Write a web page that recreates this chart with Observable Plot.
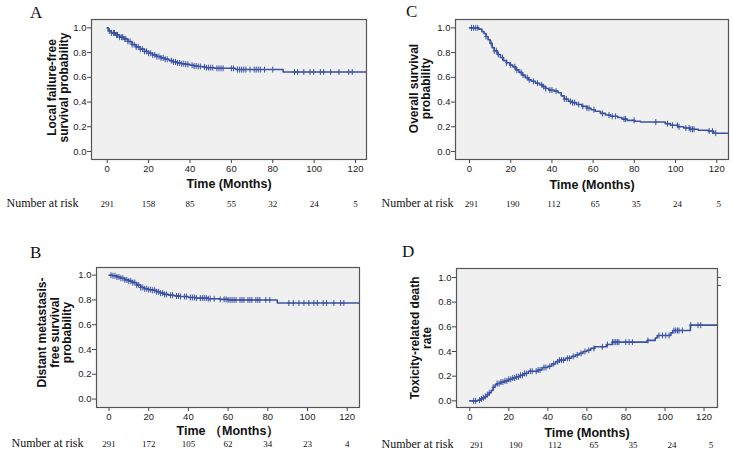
<!DOCTYPE html>
<html>
<head>
<meta charset="utf-8">
<script src="https://cdn.jsdelivr.net/npm/d3@7"></script>
<script src="https://cdn.jsdelivr.net/npm/@observablehq/plot@0.6"></script>
<style>
  html, body { margin: 0; padding: 0; background: #fff; }
  #wrap { position: relative; width: 733px; height: 462px; background: #fff; overflow: hidden; }
  .panel { position: absolute; }
  .letter { position: absolute; font-family: "Liberation Serif", "Times New Roman", serif; font-size: 17px; color: #111; line-height: 1; }
  .dash { position: absolute; width: 3px; height: 1px; background: #3b52a3; }
</style>
</head>
<body>
<div id="wrap">
  <div class="letter" style="left:30px; top:4px;">A</div>
  <div class="letter" style="left:406px; top:3px;">C</div>
  <div class="letter" style="left:30px; top:244px;">B</div>
  <div class="letter" style="left:402px; top:243px;">D</div>
  <div class="dash" style="left:718px; top:277px;"></div>
  <div class="dash" style="left:718px; top:285px;"></div>
</div>
<script>
// ---------- shared tick values ----------
const xTicks = [0, 20, 40, 60, 80, 100, 120];
const yTicks = [0, 0.2, 0.4, 0.6, 0.8, 1.0];

// ---------- Panel A: local failure-free survival ----------
const aTime = [0, 0.5, 2, 4, 6, 8, 10, 12, 14, 16, 18, 20, 22, 24, 26, 28, 30, 32, 34, 36, 38, 40, 42, 44, 46, 48, 52, 62, 85, 125.2];
const aSurv = [1.0, 0.975, 0.96, 0.943, 0.925, 0.91, 0.89, 0.865, 0.846, 0.828, 0.81, 0.795, 0.781, 0.768, 0.757, 0.746, 0.735, 0.725, 0.716, 0.71, 0.705, 0.698, 0.692, 0.688, 0.684, 0.678, 0.673, 0.663, 0.643, 0.643];
const aCensor = [1, 2, 3, 3.5, 4.5, 5, 6, 7, 7.5, 8.5, 9, 10, 11, 12, 13, 14, 15, 16, 17, 18, 19, 20, 21, 22, 23, 24, 25, 26, 27, 28, 29, 31, 32, 33, 34, 35, 36, 37, 38, 39, 41, 42, 43, 44, 45, 47, 48, 49, 50, 51, 53, 54, 55, 56, 60, 61, 63, 64, 65, 66, 67, 69, 71, 72, 73, 74, 76, 80, 90.5, 92, 95, 98, 99.8, 103, 104.6, 108, 112, 116.7, 118.4];
const aRisk = [291, 158, 85, 55, 32, 24, 5];

// ---------- Panel B: distant metastasis-free survival ----------
const bTime = [0, 2, 4, 6, 8, 10, 12, 14, 16, 18, 20, 22, 24, 26, 28, 30, 33, 36, 40, 44, 50, 56, 60, 84.8, 126.1];
const bSurv = [1.0, 0.995, 0.985, 0.975, 0.962, 0.952, 0.94, 0.92, 0.9, 0.89, 0.883, 0.878, 0.866, 0.855, 0.845, 0.838, 0.832, 0.828, 0.82, 0.815, 0.81, 0.805, 0.8, 0.775, 0.775];
const bCensor = [1, 2, 3, 4, 5, 6, 7, 8, 9, 10, 11, 12, 13, 14, 15, 16, 17, 18, 19, 20, 21, 22, 23, 24, 25, 26, 27, 28, 29, 31, 32, 34, 35, 36, 38, 39, 41, 42, 43, 44, 46, 47, 48, 49, 50, 51, 53, 56, 58, 59, 60, 61, 62, 63, 64, 66, 67, 68, 70, 71, 72, 74, 75, 76, 79, 81, 90.6, 92.8, 95.7, 98.2, 100.7, 103.2, 104.9, 107.9, 109.6, 113.3, 116.7, 118.3];
const bRisk = [291, 172, 105, 62, 34, 23, 4];

// ---------- Panel C: overall survival ----------
const cTime = [0, 4.5, 6, 7, 8, 9, 10, 11, 12, 13.5, 15, 16.5, 18, 19.5, 21, 22.5, 24, 25.5, 27, 28.5, 30, 32, 34, 35.5, 37, 38.5, 41, 43, 44.5, 46, 48, 50, 52, 54.5, 57, 59, 61, 63.5, 66, 68.5, 72, 74, 76.5, 80, 83, 95, 97.5, 101, 104, 107, 111, 116, 118.5, 125.6];
const cSurv = [1.0, 0.99, 0.97, 0.955, 0.93, 0.905, 0.875, 0.84, 0.815, 0.785, 0.76, 0.735, 0.718, 0.7, 0.685, 0.66, 0.64, 0.618, 0.598, 0.58, 0.568, 0.552, 0.54, 0.525, 0.51, 0.497, 0.488, 0.475, 0.45, 0.425, 0.405, 0.395, 0.38, 0.365, 0.35, 0.338, 0.325, 0.308, 0.295, 0.285, 0.275, 0.262, 0.252, 0.245, 0.238, 0.225, 0.212, 0.2, 0.19, 0.18, 0.172, 0.165, 0.148, 0.148];
const cCensor = [1, 2, 3, 4, 8, 10.5, 12, 13, 14, 16, 18, 20, 22, 23, 25, 26, 28, 29, 31, 33, 35, 36, 37, 39, 40, 42, 46, 47, 49, 50, 51, 53, 55, 57, 58, 60.4, 64.5, 67.7, 69.3, 70.9, 75, 75.8, 79.9, 90.4, 96.1, 98.5, 100.9, 101.7, 105, 106.6, 107.4, 108.2, 109, 116.3, 117.9, 119.5];
const cRisk = [291, 190, 112, 65, 35, 24, 5];

// ---------- Panel D: toxicity-related death rate ----------
const dTime = [0, 4, 5.5, 7, 8, 9, 10, 11, 12, 13, 14, 16, 18, 20, 22, 24, 26, 28, 30, 35, 37, 40, 42, 44, 46, 49, 52, 54, 56, 58, 60, 62, 64, 70, 73, 91, 95, 96, 103, 104, 113, 126.8];
const dRate = [0, 0.005, 0.015, 0.025, 0.035, 0.05, 0.065, 0.085, 0.11, 0.13, 0.14, 0.152, 0.162, 0.175, 0.185, 0.195, 0.207, 0.222, 0.24, 0.25, 0.27, 0.28, 0.3, 0.318, 0.33, 0.345, 0.36, 0.372, 0.385, 0.4, 0.41, 0.425, 0.438, 0.457, 0.476, 0.49, 0.51, 0.53, 0.551, 0.57, 0.614, 0.614];
const dCensor = [2, 3, 5, 6, 7, 8, 9, 10, 12, 14, 15, 16, 17, 18, 19, 20, 21, 22, 23, 24, 25, 26, 27, 28, 29, 31, 32, 34, 35, 36, 38, 39, 41, 43, 45, 46, 47, 48, 50, 51, 53, 55, 57, 59, 61, 63.6, 67.9, 70.5, 73.1, 73.9, 74.8, 75.6, 76.4, 79.9, 81.6, 83.3, 91.3, 96.9, 98.7, 100.4, 102.1, 104.6, 105.5, 106.4, 107.2, 108.9, 113.2, 116.9, 118.3];
const dRisk = [291, 190, 112, 65, 35, 24, 5];

// ---------- drawing ----------
const BLUE = "#3b52a3";
const sans = "'Liberation Sans', Arial, sans-serif";
const serif = "'Liberation Serif', 'Times New Roman', serif";

// censoring mark: a "+" with a taller vertical bar
const censorSymbol = {
  draw(ctx) {
    ctx.moveTo(0, -3); ctx.lineTo(0, 3);
    ctx.moveTo(-1.6, 0); ctx.lineTo(1.6, 0);
  }
};

function stepValue(times, vals, t) {
  let v = vals[0];
  for (let i = 0; i < times.length; i++) { if (times[i] <= t) v = vals[i]; else break; }
  return v;
}

function panel(cfg) {
  const curve = cfg.time.map((t, i) => ({t, s: cfg.vals[i]}));
  const cens = cfg.censor.map(t => ({t, s: stepValue(cfg.time, cfg.vals, t)}));
  const risk = xTicks.map((t, i) => ({t, n: cfg.risk[i]}));
  const svg = Plot.plot({
    width: cfg.width, height: cfg.height,
    marginLeft: cfg.ml, marginRight: cfg.mr, marginTop: cfg.mt, marginBottom: cfg.mb,
    style: {fontFamily: sans, fontSize: "10px", color: "#222", background: "transparent", overflow: "visible"},
    x: {domain: cfg.xd},
    y: {domain: cfg.yd},
    marks: [
      Plot.frame({fill: "#f0f0f0", stroke: null}),
      Plot.axisX({ticks: xTicks, tickSize: 4, tickPadding: 2, fontSize: 9.5, label: null, stroke: "#444", fill: "#222"}),
      Plot.axisY({ticks: yTicks, tickSize: 4, tickPadding: 1, fontSize: 9.5, tickFormat: d3.format(".1f"), label: null, stroke: "#444", fill: "#222"}),
      Plot.line(curve, {x: "t", y: "s", curve: "step-after", stroke: BLUE, strokeWidth: 1.6}),
      Plot.dot(cens, {x: "t", y: "s", symbol: censorSymbol, r: 3, fill: "none", stroke: BLUE, strokeWidth: 1}),
      Plot.frame({stroke: "#555", strokeWidth: 1.2}),
      Plot.text([cfg.yTitle], {text: d => d, frameAnchor: "left", textAnchor: "middle", lineAnchor: "middle", rotate: -90, dx: cfg.ytDx, dy: cfg.ytDy, fontWeight: "bold", fontSize: 12, lineHeight: cfg.lh, fill: "#111"}),
      Plot.text([cfg.xTitle], {text: d => d, frameAnchor: "bottom", textAnchor: "middle", dy: cfg.xtDy, fontWeight: "bold", fontSize: 12.5, fill: "#111"}),
      Plot.text(["Number at risk"], {text: d => d, frameAnchor: "bottom-left", textAnchor: "end", dx: cfg.nlDx, dy: cfg.rDy, fontFamily: serif, fontSize: 12, fill: "#111"}),
      Plot.text(risk, {x: "t", text: "n", frameAnchor: "bottom", textAnchor: "middle", dx: cfg.rDx, dy: cfg.rDy, fontFamily: serif, fontSize: 9, fill: "#111"})
    ]
  });
  svg.classList.add("panel");
  svg.style.left = cfg.left + "px";
  svg.style.top = cfg.top + "px";
  document.getElementById("wrap").appendChild(svg);
}

panel({
  left: 0, top: 0, width: 370, height: 225, ml: 91, mr: 4, mt: 19, mb: 66,
  xd: [-7.6, 125.3], yd: [-0.065, 1.068],
  time: aTime, vals: aSurv, censor: aCensor, risk: aRisk,
  yTitle: "Local failure-free\nsurvival probability", ytDx: -33, ytDy: -2, lh: 0.95,
  xTitle: "Time (Months)", xtDy: 28, rDy: 47, rDx: 0, nlDx: -13
});

panel({
  left: 370, top: 0, width: 363, height: 225, ml: 85, mr: 5, mt: 19, mb: 66,
  xd: [-6.8, 125.7], yd: [-0.065, 1.068],
  time: cTime, vals: cSurv, censor: cCensor, risk: cRisk,
  yTitle: "Overall survival\nprobability", ytDx: -35, ytDy: -1, lh: 0.95,
  xTitle: "Time (Months)", xtDy: 29, rDy: 47, rDx: 2, nlDx: -2
});

panel({
  left: 0, top: 230, width: 370, height: 232, ml: 96, mr: 11, mt: 37, mb: 55,
  xd: [-6.3, 126.2], yd: [-0.068, 1.062],
  time: bTime, vals: bSurv, censor: bCensor, risk: bRisk,
  yTitle: "Distant metastasis-\nfree survival\nprobability", ytDx: -42, ytDy: -5, lh: 1.04,
  xTitle: "Time （Months）", xtDy: 27, rDy: 39.5, rDx: 0, nlDx: -13
});

panel({
  left: 370, top: 230, width: 363, height: 232, ml: 86, mr: 16, mt: 38, mb: 55,
  xd: [-6.8, 126.9], yd: [-0.054, 1.073],
  time: dTime, vals: dRate, censor: dCensor, risk: dRisk,
  yTitle: "Toxicity-related death\nrate", ytDx: -35, ytDy: 0, lh: 0.95,
  xTitle: "Time (Months)", xtDy: 29, rDy: 40.5, rDx: 7, nlDx: -3
});
</script>
</body>
</html>
